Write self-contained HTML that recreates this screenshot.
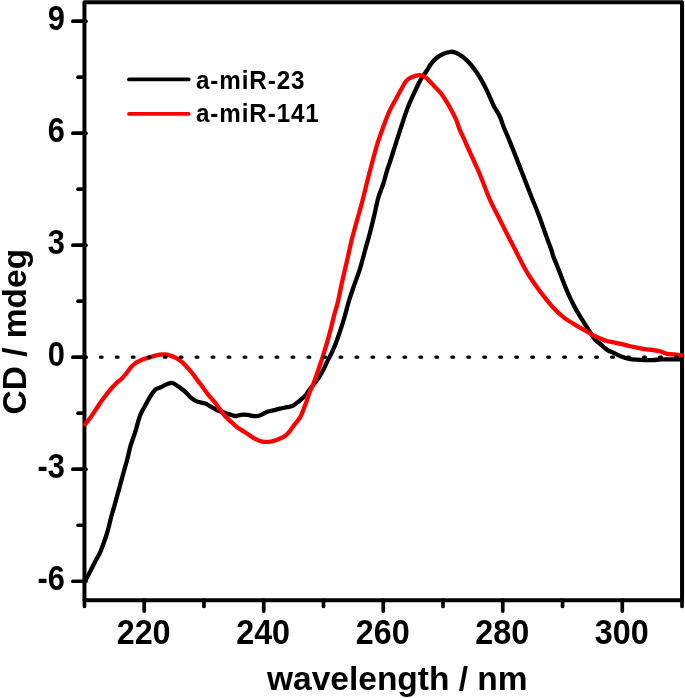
<!DOCTYPE html>
<html><head><meta charset="utf-8"><style>
html,body{margin:0;padding:0;background:#fff;}
body{width:685px;height:698px;overflow:hidden;}
svg{display:block;will-change:transform;}
text{font-family:"Liberation Sans",sans-serif;font-weight:bold;fill:#000;}
.t{stroke:#000;stroke-width:3.70;stroke-linecap:round;}
</style></head><body>
<svg width="685" height="698" viewBox="0 0 685 698">
<rect x="84.45" y="2.2" width="597.6" height="598.1" fill="none" stroke="#000" stroke-width="4.00" stroke-linejoin="round"/>
<line x1="72.9" y1="21.14" x2="85.95" y2="21.14" class="t"/>
<line x1="72.9" y1="133.16" x2="85.95" y2="133.16" class="t"/>
<line x1="72.9" y1="245.18" x2="85.95" y2="245.18" class="t"/>
<line x1="72.9" y1="357.20" x2="85.95" y2="357.20" class="t"/>
<line x1="72.9" y1="469.22" x2="85.95" y2="469.22" class="t"/>
<line x1="72.9" y1="581.24" x2="85.95" y2="581.24" class="t"/>
<line x1="78.1" y1="77.15" x2="83.45" y2="77.15" class="t"/>
<line x1="78.1" y1="189.17" x2="83.45" y2="189.17" class="t"/>
<line x1="78.1" y1="301.19" x2="83.45" y2="301.19" class="t"/>
<line x1="78.1" y1="413.21" x2="83.45" y2="413.21" class="t"/>
<line x1="78.1" y1="525.23" x2="83.45" y2="525.23" class="t"/>
<line x1="144.21" y1="600" x2="144.21" y2="611.1" class="t"/>
<line x1="263.73" y1="600" x2="263.73" y2="611.1" class="t"/>
<line x1="383.25" y1="600" x2="383.25" y2="611.1" class="t"/>
<line x1="502.77" y1="600" x2="502.77" y2="611.1" class="t"/>
<line x1="622.29" y1="600" x2="622.29" y2="611.1" class="t"/>
<line x1="84.45" y1="600" x2="84.45" y2="606.4" class="t"/>
<line x1="203.97" y1="600" x2="203.97" y2="606.4" class="t"/>
<line x1="323.49" y1="600" x2="323.49" y2="606.4" class="t"/>
<line x1="443.01" y1="600" x2="443.01" y2="606.4" class="t"/>
<line x1="562.53" y1="600" x2="562.53" y2="606.4" class="t"/>
<line x1="682.05" y1="600" x2="682.05" y2="606.4" class="t"/>
<path d="M85.20,580.60 C86.05,579.03 88.58,574.48 90.30,571.20 C92.02,567.92 93.92,563.92 95.50,560.90 C97.08,557.88 98.37,556.27 99.80,553.10 C101.23,549.93 102.82,545.48 104.10,541.90 C105.38,538.32 106.35,535.62 107.50,531.60 C108.65,527.58 109.85,522.10 111.00,517.80 C112.15,513.50 113.13,510.33 114.40,505.80 C115.67,501.27 117.18,495.75 118.60,490.60 C120.02,485.45 121.47,480.08 122.90,474.90 C124.33,469.72 125.92,464.37 127.20,459.50 C128.48,454.63 129.35,450.00 130.60,445.70 C131.85,441.40 133.13,438.68 134.70,433.70 C136.27,428.72 138.40,420.22 140.00,415.80 C141.60,411.38 142.87,409.95 144.30,407.20 C145.73,404.45 147.28,401.57 148.60,399.30 C149.92,397.03 151.00,395.27 152.20,393.60 C153.40,391.93 154.37,390.37 155.80,389.30 C157.23,388.23 158.97,388.03 160.80,387.20 C162.63,386.37 164.87,385.00 166.80,384.30 C168.73,383.60 170.40,382.58 172.40,383.00 C174.40,383.42 176.62,385.27 178.80,386.80 C180.98,388.33 183.38,390.30 185.50,392.20 C187.62,394.10 189.58,396.63 191.50,398.20 C193.42,399.77 194.72,400.72 197.00,401.60 C199.28,402.48 202.97,402.70 205.20,403.50 C207.43,404.30 208.22,405.20 210.40,406.40 C212.58,407.60 215.68,409.57 218.30,410.70 C220.92,411.83 223.75,412.43 226.10,413.20 C228.45,413.97 230.75,414.83 232.40,415.30 C234.05,415.77 234.57,416.08 236.00,416.00 C237.43,415.92 239.08,414.98 241.00,414.80 C242.92,414.62 245.12,414.67 247.50,414.90 C249.88,415.13 253.15,416.15 255.30,416.20 C257.45,416.25 258.38,415.93 260.40,415.20 C262.42,414.47 265.07,412.65 267.40,411.80 C269.73,410.95 272.27,410.63 274.40,410.10 C276.53,409.57 278.07,409.10 280.20,408.60 C282.33,408.10 285.05,407.58 287.20,407.10 C289.35,406.62 291.08,406.72 293.10,405.70 C295.12,404.68 297.18,402.77 299.30,401.00 C301.42,399.23 304.23,396.80 305.80,395.10 C307.37,393.40 307.38,392.58 308.70,390.80 C310.02,389.02 311.92,386.78 313.70,384.40 C315.48,382.02 317.73,379.02 319.40,376.50 C321.07,373.98 322.52,371.53 323.70,369.30 C324.88,367.07 325.18,365.82 326.50,363.10 C327.82,360.38 330.03,356.35 331.60,353.00 C333.17,349.65 334.47,346.70 335.90,343.00 C337.33,339.30 338.77,335.10 340.20,330.80 C341.63,326.50 343.12,321.92 344.50,317.20 C345.88,312.48 347.07,307.32 348.50,302.50 C349.93,297.68 351.17,294.00 353.10,288.30 C355.03,282.60 358.10,274.65 360.10,268.30 C362.10,261.95 363.43,256.22 365.10,250.20 C366.77,244.18 368.60,237.88 370.10,232.20 C371.60,226.52 372.75,221.78 374.10,216.10 C375.45,210.42 376.68,203.45 378.20,198.10 C379.72,192.75 381.70,188.68 383.20,184.00 C384.70,179.32 386.05,173.75 387.20,170.00 C388.35,166.25 388.62,166.07 390.10,161.50 C391.58,156.93 394.08,148.90 396.10,142.60 C398.12,136.30 400.18,129.72 402.20,123.70 C404.22,117.68 406.05,111.95 408.20,106.50 C410.35,101.05 412.95,95.60 415.10,91.00 C417.25,86.40 419.10,82.35 421.10,78.90 C423.10,75.45 425.50,72.72 427.10,70.30 C428.70,67.88 429.13,66.45 430.70,64.40 C432.27,62.35 434.35,59.78 436.50,58.00 C438.65,56.22 441.22,54.73 443.60,53.70 C445.98,52.67 448.77,51.97 450.80,51.80 C452.83,51.63 453.88,51.92 455.80,52.70 C457.72,53.48 460.03,54.78 462.30,56.50 C464.57,58.22 467.02,60.37 469.40,63.00 C471.78,65.63 474.45,69.20 476.60,72.30 C478.75,75.40 480.38,78.13 482.30,81.60 C484.22,85.07 486.18,89.03 488.10,93.10 C490.02,97.17 491.88,102.18 493.80,106.00 C495.72,109.82 497.92,112.42 499.60,116.00 C501.28,119.58 502.30,123.48 503.90,127.50 C505.50,131.52 506.98,134.67 509.20,140.10 C511.42,145.53 514.70,153.75 517.20,160.10 C519.70,166.45 521.87,172.18 524.20,178.20 C526.53,184.22 528.70,189.85 531.20,196.20 C533.70,202.55 536.68,209.62 539.20,216.30 C541.72,222.98 544.27,230.68 546.30,236.30 C548.33,241.92 550.23,246.65 551.40,250.00 C552.57,253.35 552.25,253.53 553.30,256.40 C554.35,259.27 555.98,262.83 557.70,267.20 C559.42,271.57 561.65,277.73 563.60,282.60 C565.55,287.47 567.43,292.10 569.40,296.40 C571.37,300.70 573.38,304.68 575.40,308.40 C577.42,312.12 579.20,314.97 581.50,318.70 C583.80,322.43 586.95,327.33 589.20,330.80 C591.45,334.27 593.15,337.30 595.00,339.50 C596.85,341.70 598.33,342.32 600.30,344.00 C602.27,345.68 604.62,348.13 606.80,349.60 C608.98,351.07 610.98,351.65 613.40,352.80 C615.82,353.95 618.67,355.50 621.30,356.50 C623.93,357.50 626.58,358.27 629.20,358.80 C631.82,359.33 634.38,359.48 637.00,359.70 C639.62,359.92 642.27,360.03 644.90,360.10 C647.53,360.17 650.17,360.22 652.80,360.10 C655.43,359.98 658.07,359.52 660.70,359.40 C663.33,359.28 665.10,359.40 668.60,359.40 C672.10,359.40 679.52,359.40 681.70,359.40" fill="none" stroke="#000" stroke-width="4.30" stroke-linejoin="round" stroke-linecap="round"/>
<path d="M85.00,424.40 C85.83,423.37 88.20,420.67 90.00,418.20 C91.80,415.73 93.88,412.47 95.80,409.60 C97.72,406.73 99.35,404.00 101.50,401.00 C103.65,398.00 106.32,394.48 108.70,391.60 C111.08,388.72 113.65,385.85 115.80,383.70 C117.95,381.55 119.80,380.48 121.60,378.70 C123.40,376.92 125.05,374.92 126.60,373.00 C128.15,371.08 129.35,368.88 130.90,367.20 C132.45,365.52 134.53,363.92 135.90,362.90 C137.27,361.88 137.72,361.77 139.10,361.10 C140.48,360.43 142.50,359.48 144.20,358.90 C145.90,358.32 147.60,358.10 149.30,357.60 C151.00,357.10 152.70,356.38 154.40,355.90 C156.10,355.42 157.80,354.95 159.50,354.70 C161.20,354.45 162.90,354.28 164.60,354.40 C166.30,354.52 167.98,354.90 169.70,355.40 C171.42,355.90 172.97,356.40 174.90,357.40 C176.83,358.40 179.17,359.65 181.30,361.40 C183.43,363.15 185.72,365.75 187.70,367.90 C189.68,370.05 191.53,372.18 193.20,374.30 C194.87,376.42 196.28,378.72 197.70,380.60 C199.12,382.48 200.45,383.92 201.70,385.60 C202.95,387.28 203.87,388.88 205.20,390.70 C206.53,392.52 208.08,394.55 209.70,396.50 C211.32,398.45 213.37,400.50 214.90,402.40 C216.43,404.30 217.62,406.13 218.90,407.90 C220.18,409.67 221.47,411.52 222.60,413.00 C223.73,414.48 224.22,415.27 225.70,416.80 C227.18,418.33 229.58,420.45 231.50,422.20 C233.42,423.95 235.30,425.85 237.20,427.30 C239.10,428.75 240.98,429.65 242.90,430.90 C244.82,432.15 246.95,433.65 248.70,434.80 C250.45,435.95 251.65,436.82 253.40,437.80 C255.15,438.78 257.27,440.02 259.20,440.70 C261.13,441.38 262.87,441.80 265.00,441.90 C267.13,442.00 269.67,441.78 272.00,441.30 C274.33,440.82 276.85,439.87 279.00,439.00 C281.15,438.13 283.13,437.37 284.90,436.10 C286.67,434.83 288.05,433.25 289.60,431.40 C291.15,429.55 292.45,427.33 294.20,425.00 C295.95,422.67 298.53,420.03 300.10,417.40 C301.67,414.77 302.43,412.12 303.60,409.20 C304.77,406.28 306.13,402.63 307.10,399.90 C308.07,397.17 308.32,395.58 309.40,392.80 C310.48,390.02 312.05,387.20 313.60,383.20 C315.15,379.20 317.13,373.35 318.70,368.80 C320.27,364.25 321.57,360.43 323.00,355.90 C324.43,351.37 326.00,346.13 327.30,341.60 C328.60,337.07 329.62,333.25 330.80,328.70 C331.98,324.15 333.20,318.85 334.40,314.30 C335.60,309.75 336.73,306.73 338.00,301.40 C339.27,296.07 340.48,289.15 342.00,282.30 C343.52,275.45 345.42,267.65 347.10,260.30 C348.78,252.95 350.43,244.90 352.10,238.20 C353.77,231.50 355.43,226.12 357.10,220.10 C358.77,214.08 360.43,208.45 362.10,202.10 C363.77,195.75 365.45,188.48 367.10,182.00 C368.75,175.52 370.32,169.48 372.00,163.20 C373.68,156.92 375.33,150.32 377.20,144.30 C379.07,138.28 381.20,132.55 383.20,127.10 C385.20,121.65 387.05,116.33 389.20,111.60 C391.35,106.87 393.93,102.72 396.10,98.70 C398.27,94.68 400.47,90.52 402.20,87.50 C403.93,84.48 404.93,82.32 406.50,80.60 C408.07,78.88 409.45,78.12 411.60,77.20 C413.75,76.28 417.10,75.10 419.40,75.10 C421.70,75.10 423.25,75.70 425.40,77.20 C427.55,78.70 429.73,81.45 432.30,84.10 C434.87,86.75 438.43,90.17 440.80,93.10 C443.17,96.03 444.60,98.60 446.50,101.70 C448.40,104.80 450.57,108.65 452.20,111.70 C453.83,114.75 455.12,117.18 456.30,120.00 C457.48,122.82 458.15,125.73 459.30,128.60 C460.45,131.47 461.92,134.33 463.20,137.20 C464.48,140.07 465.72,142.93 467.00,145.80 C468.28,148.67 469.60,151.53 470.90,154.40 C472.20,157.27 473.50,160.13 474.80,163.00 C476.10,165.87 477.48,168.77 478.70,171.60 C479.92,174.43 480.20,175.23 482.10,180.00 C484.00,184.77 487.27,193.82 490.10,200.20 C492.93,206.58 496.08,212.28 499.10,218.30 C502.12,224.32 505.50,231.02 508.20,236.30 C510.90,241.58 513.25,246.00 515.30,250.00 C517.35,254.00 518.37,256.28 520.50,260.30 C522.63,264.32 525.38,269.67 528.10,274.10 C530.82,278.53 533.93,282.90 536.80,286.90 C539.67,290.90 542.30,294.37 545.30,298.10 C548.30,301.83 551.63,306.00 554.80,309.30 C557.97,312.60 561.15,315.47 564.30,317.90 C567.45,320.33 570.42,321.90 573.70,323.90 C576.98,325.90 580.57,327.90 584.00,329.90 C587.43,331.90 591.58,334.48 594.30,335.90 C597.02,337.32 598.22,337.55 600.30,338.40 C602.38,339.25 604.40,340.30 606.80,341.00 C609.20,341.70 612.28,342.12 614.70,342.60 C617.12,343.08 618.88,343.33 621.30,343.90 C623.72,344.47 626.58,345.38 629.20,346.00 C631.82,346.62 634.38,347.07 637.00,347.60 C639.62,348.13 642.27,348.80 644.90,349.20 C647.53,349.60 650.17,349.62 652.80,350.00 C655.43,350.38 658.28,350.85 660.70,351.50 C663.12,352.15 665.12,353.42 667.30,353.90 C669.48,354.38 671.40,354.13 673.80,354.40 C676.20,354.67 680.38,355.32 681.70,355.50" fill="none" stroke="#f00" stroke-width="4.30" stroke-linejoin="round" stroke-linecap="round"/>
<line x1="84.3" y1="357.20" x2="681" y2="357.20" stroke="#000" stroke-width="3.2" stroke-linecap="round" stroke-dasharray="1.8 14.18"/>
<line x1="129" y1="79.4" x2="188.7" y2="79.4" stroke="#000" stroke-width="3.8" stroke-linecap="round"/>
<line x1="129" y1="113.9" x2="188.7" y2="113.9" stroke="#f00" stroke-width="3.8" stroke-linecap="round"/>
<text transform="translate(196.00,88.90) scale(0.970,1)" font-size="25.00" letter-spacing="0.90">a-miR-23</text>
<text transform="translate(196.00,121.90) scale(0.970,1)" font-size="25.00" letter-spacing="0.90">a-miR-141</text>
<text transform="translate(64.80,29.54) scale(0.885,1)" text-anchor="end" font-size="34.80">9</text>
<text transform="translate(64.80,141.56) scale(0.885,1)" text-anchor="end" font-size="34.80">6</text>
<text transform="translate(64.80,253.58) scale(0.885,1)" text-anchor="end" font-size="34.80">3</text>
<text transform="translate(64.80,365.60) scale(0.885,1)" text-anchor="end" font-size="34.80">0</text>
<text transform="translate(64.80,477.62) scale(0.885,1)" text-anchor="end" font-size="34.80">-3</text>
<text transform="translate(64.80,589.64) scale(0.885,1)" text-anchor="end" font-size="34.80">-6</text>
<text transform="translate(143.61,644.20) scale(0.945,1)" text-anchor="middle" font-size="34.20">220</text>
<text transform="translate(263.13,644.20) scale(0.945,1)" text-anchor="middle" font-size="34.20">240</text>
<text transform="translate(382.65,644.20) scale(0.945,1)" text-anchor="middle" font-size="34.20">260</text>
<text transform="translate(502.17,644.20) scale(0.945,1)" text-anchor="middle" font-size="34.20">280</text>
<text transform="translate(621.69,644.20) scale(0.945,1)" text-anchor="middle" font-size="34.20">300</text>
<text x="267" y="690" font-size="33.5">wavelength / nm</text>
<text transform="translate(25.7,414.5) rotate(-90)" x="0" y="0" font-size="33.5">CD / mdeg</text>
</svg>
</body></html>
